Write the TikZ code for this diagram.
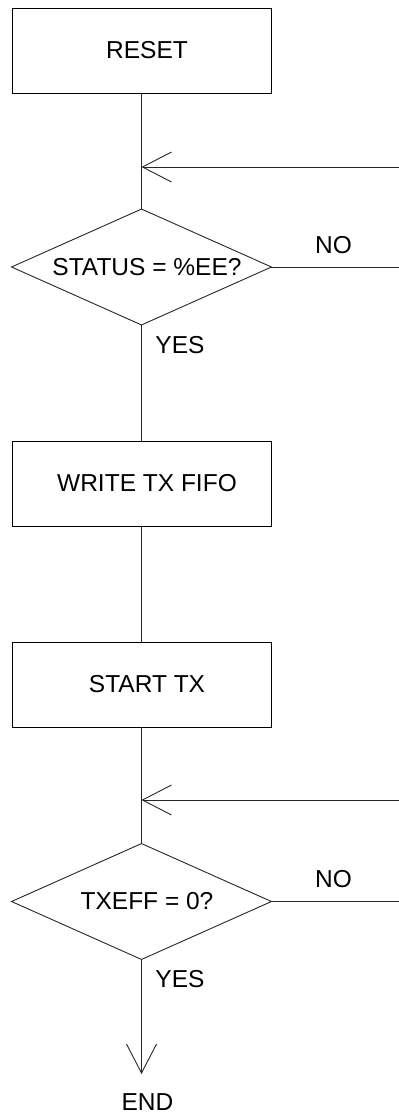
\documentclass[tikz,border=0pt]{standalone}
\usepackage{fontspec}
\setmainfont{Liberation Sans}
\usetikzlibrary{arrows.meta}
\tikzset{
  every node/.style={font=\fontsize{24.5}{28}\selectfont, inner sep=0pt},
  shifted/.style={execute at begin node={\hspace*{11pt}}},
  procbox/.style={draw, rectangle, minimum width=259pt, minimum height=85pt, shifted},
  decision/.style={rectangle, minimum width=259pt, minimum height=115pt, shifted},
  flow/.style={line width=0.9pt, draw=black!85},
  openarrow/.style={-{Straight Barb[length=29pt,width=30pt,line width=0.9pt]}},
  lbl/.style={anchor=center}
}
\begin{document}
\begin{tikzpicture}[x=1pt,y=-1pt, line width=0.9pt]
\useasboundingbox (0,0) rectangle (399,1114);
\node[procbox] (reset) at (141.5,50.5) {RESET};
\node[decision] (d1) at (141.5,267) {STATUS = \%EE?};
\node[procbox] (write) at (141.5,483.5) {WRITE TX FIFO};
\node[procbox] (start) at (141.5,684.5) {START TX};
\node[decision] (d2) at (141.5,901.5) {TXEFF = 0?};
\node[lbl] (endn) at (147.5,1102) {END};
\draw[flow] (d1.north) -- (d1.east) -- (d1.south) -- (d1.west) -- cycle;
\draw[flow] (d2.north) -- (d2.east) -- (d2.south) -- (d2.west) -- cycle;
\coordinate (j1) at (141.5,167);
\coordinate (j2) at (141.5,800);
\coordinate (r1) at (399,167);
\coordinate (n1) at (399,267);
\coordinate (r2) at (399,800);
\coordinate (n2) at (399,901.5);
\coordinate (e) at (141.5,1074);
\node[lbl] (no1) at (333.5,245) {NO};
\node[lbl] (yes1) at (180,345) {YES};
\node[lbl] (no2) at (333.5,879) {NO};
\node[lbl] (yes2) at (180,979) {YES};
\draw[flow] (reset.south) -- (d1.north);
\draw[flow, openarrow] (r1) -- (j1);
\draw[flow] (d1.east) -- (n1);
\draw[flow] (d1.south) -- (write.north);
\draw[flow] (write.south) -- (start.north);
\draw[flow] (start.south) -- (d2.north);
\draw[flow, openarrow] (r2) -- (j2);
\draw[flow] (d2.east) -- (n2);
\draw[flow, openarrow] (d2.south) -- (e);
\end{tikzpicture}
\end{document}
